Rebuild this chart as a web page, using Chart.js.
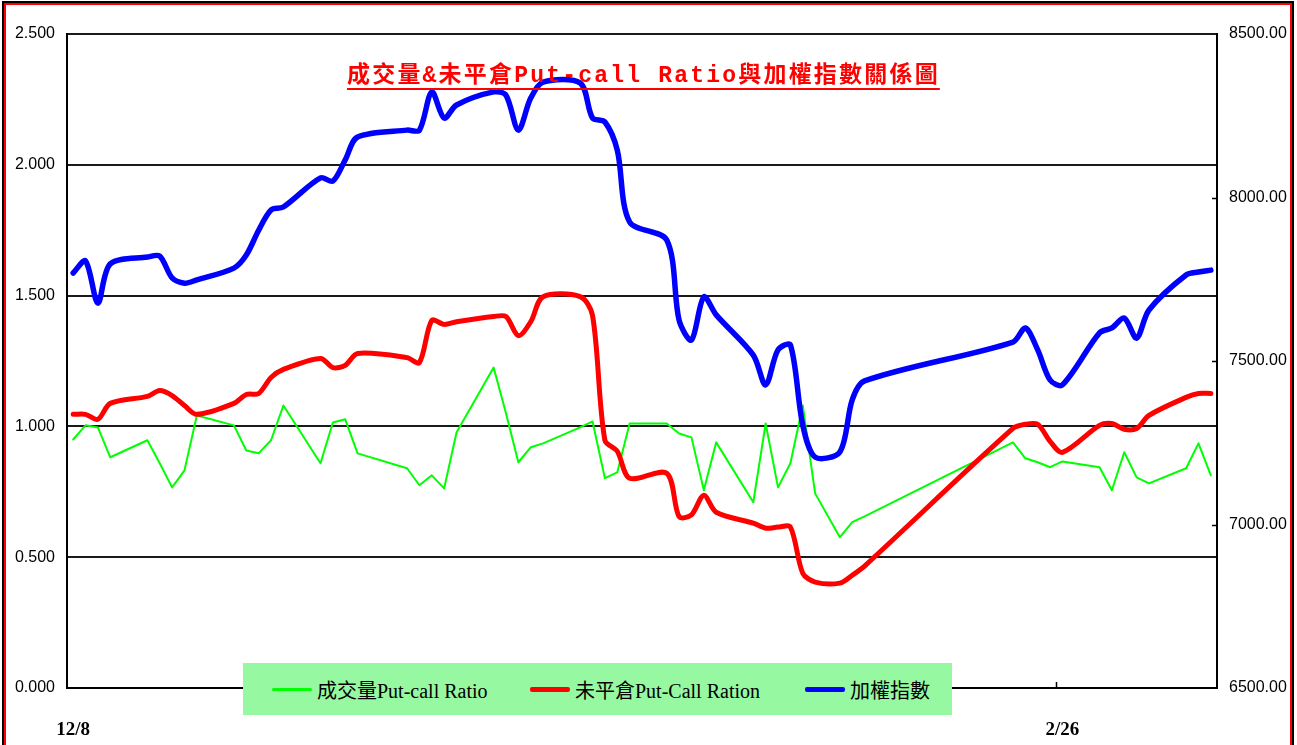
<!DOCTYPE html>
<html lang="zh-Hant">
<head>
<meta charset="utf-8">
<title>成交量&amp;未平倉Put-call Ratio與加權指數關係圖</title>
<script src="https://cdn.jsdelivr.net/npm/chart.js@4.4.1/dist/chart.umd.min.js"></script>
<style>
  html, body { margin: 0; padding: 0; background: #fff; }
  body { width: 1297px; height: 745px; position: relative; overflow: hidden; }
  .frame-outer { position: absolute; left: 2px; top: 1px; width: 1292px; height: 800px; border: 2px solid #000; border-bottom: 0; box-sizing: border-box; }
  .frame-inner { position: absolute; left: 4px; top: 3px; width: 1288px; height: 800px; border: 2px solid #f00; border-bottom: 0; box-sizing: border-box; }
  #pcrChart { position: absolute; left: 0; top: 0; }
  .chart-title { position: absolute; left: 347px; top: 61px; color: #f00; font: bold 23px "Liberation Mono", "Noto Sans CJK TC", monospace; letter-spacing: 2.2px; line-height: 30px; white-space: nowrap; text-decoration: underline; text-decoration-thickness: 2px; text-underline-offset: 6px; }
  .legend-box { position: absolute; left: 243px; top: 663px; width: 709px; height: 52px; background: #96f8a0; }
  .legend-item { position: absolute; top: 0; height: 52px; display: flex; align-items: center; font: 20px "Liberation Serif", "Noto Sans CJK TC", serif; color: #000; white-space: nowrap; }
  .legend-swatch { display: inline-block; width: 40px; margin-right: 5px; border-radius: 2px; }
</style>
</head>
<body>
<div class="frame-outer"></div>
<div class="frame-inner"></div>
<canvas id="pcrChart" width="1297" height="745"></canvas>
<div class="chart-title">成交量&amp;未平倉Put-call Ratio與加權指數關係圖</div>
<div class="legend-box" id="legendBox"></div>
<script>
'use strict';

// trading days (2010-02-06 was a make-up Saturday session)
const tradeDates = [
  '2009-12-08', '2009-12-09', '2009-12-10', '2009-12-11', '2009-12-14', '2009-12-15', '2009-12-16', '2009-12-17', '2009-12-18',
  '2009-12-21', '2009-12-22', '2009-12-23', '2009-12-24', '2009-12-25', '2009-12-28', '2009-12-29', '2009-12-30', '2009-12-31',
  '2010-01-04', '2010-01-05', '2010-01-06', '2010-01-07', '2010-01-08', '2010-01-11', '2010-01-12', '2010-01-13', '2010-01-14',
  '2010-01-15', '2010-01-18', '2010-01-19', '2010-01-20', '2010-01-21', '2010-01-22', '2010-01-25', '2010-01-26', '2010-01-27',
  '2010-01-28', '2010-01-29', '2010-02-01', '2010-02-02', '2010-02-03', '2010-02-04', '2010-02-05', '2010-02-06', '2010-02-08',
  '2010-02-09', '2010-02-10', '2010-02-22', '2010-02-23', '2010-02-24', '2010-02-25', '2010-02-26', '2010-03-01', '2010-03-02',
  '2010-03-03', '2010-03-04', '2010-03-05', '2010-03-08', '2010-03-09', '2010-03-10'
];

const volumePcr = [
  0.950, 1.004, 0.996, 0.882, 0.947, 0.859, 0.767, 0.832, 1.042,
  1.004, 0.908, 0.897, 0.947, 1.080, 0.859, 1.015, 1.027, 0.897,
  0.840, 0.775, 0.813, 0.763, 0.977, 1.225, 1.050, 0.863, 0.920,
  0.935, 0.996, 1.019, 0.802, 0.824, 1.011, 1.011, 0.973, 0.958,
  0.756, 0.939, 0.710, 1.011, 0.767, 0.859, 1.080, 0.744, 0.576,
  0.634, 0.656, 0.939, 0.878, 0.863, 0.844, 0.866, 0.844, 0.756,
  0.901, 0.805, 0.782, 0.840, 0.935, 0.813
];

const openInterestPcr = [
  1.046, 1.046, 1.027, 1.088, 1.115, 1.137, 1.118, 1.080, 1.046,
  1.088, 1.122, 1.126, 1.187, 1.218, 1.260, 1.225, 1.233, 1.279,
  1.263, 1.244, 1.405, 1.390, 1.400, 1.420, 1.420, 1.347, 1.400,
  1.496, 1.496, 1.424, 0.947, 0.905, 0.802, 0.821, 0.655, 0.662,
  0.737, 0.672, 0.630, 0.611, 0.615, 0.615, 0.439, 0.405, 0.401,
  0.431, 0.466, 0.992, 1.008, 1.008, 0.943, 0.901, 1.004, 1.011,
  0.989, 0.992, 1.042, 1.111, 1.126, 1.126
];

const taiex = [
  7769, 7806, 7677, 7797, 7818, 7821, 7754, 7738, 7748,
  7784, 7824, 7900, 7962, 7971, 8060, 8050, 8115, 8185,
  8206, 8206, 8323, 8243, 8283, 8323, 8313, 8206, 8304,
  8353, 8350, 8243, 8231, 8145, 7925, 7870, 7625, 7564,
  7696, 7641, 7518, 7427, 7534, 7549, 7304, 7206, 7222,
  7381, 7439, 7558, 7601, 7534, 7442, 7427, 7586, 7601,
  7631, 7570, 7656, 7763, 7772, 7778
];

const tickDates = ['2009-12-08', '2010-02-26'];
const ratioTicks = [0, 0.5, 1, 1.5, 2, 2.5];
const indexTicks = [6500, 7000, 7500, 8000, 8500];

const DAY_MS = 86400000;
const startMs = Date.parse(tradeDates[0]);

function dayOffset(iso) {
  return Math.round((Date.parse(iso) - startMs) / DAY_MS);
}

function dayLabel(offset) {
  const d = new Date(startMs + offset * DAY_MS);
  return (d.getUTCMonth() + 1) + '/' + d.getUTCDate();
}

function toPoints(values) {
  return values.map((v, i) => ({ x: dayOffset(tradeDates[i]), y: v }));
}

const lastDay = dayOffset(tradeDates[tradeDates.length - 1]);

// short tick marks pointing into the plot (right axis and the date ticks)
const innerTicks = {
  id: 'innerTicks',
  afterDraw(chart) {
    const { ctx, chartArea, scales } = chart;
    ctx.save();
    ctx.strokeStyle = '#000';
    ctx.lineWidth = 1.5;
    ctx.beginPath();
    scales.y1.ticks.forEach(t => {
      if (t.value <= scales.y1.min || t.value >= scales.y1.max) return;
      const py = Math.round(scales.y1.getPixelForValue(t.value)) + 0.5;
      ctx.moveTo(chartArea.right - 5, py);
      ctx.lineTo(chartArea.right, py);
    });
    scales.x.ticks.forEach(t => {
      const px = Math.round(scales.x.getPixelForValue(t.value - 0.5)) + 0.5;
      if (px <= chartArea.left + 2) return;
      ctx.moveTo(px, chartArea.bottom);
      ctx.lineTo(px, chartArea.bottom - 6);
    });
    ctx.stroke();
    ctx.restore();
  }
};

const ctx = document.getElementById('pcrChart').getContext('2d');
const pcrChart = new Chart(ctx, {
  type: 'line',
  data: {
    datasets: [
      { label: '成交量Put-call Ratio', data: toPoints(volumePcr), yAxisID: 'y', borderColor: '#00ff00', borderWidth: 2, tension: 0, order: 3, swatch: 3 },
      { label: '未平倉Put-Call Ration', data: toPoints(openInterestPcr), yAxisID: 'y', borderColor: '#ff0000', borderWidth: 5, tension: 0.3, order: 2, swatch: 5 },
      { label: '加權指數', data: toPoints(taiex), yAxisID: 'y1', borderColor: '#0000ff', borderWidth: 5.5, tension: 0.3, order: 1, swatch: 5 }
    ]
  },
  options: {
    responsive: false,
    animation: false,
    layout: { padding: { top: 34, left: 0, right: 0, bottom: 0 } },
    elements: {
      point: { radius: 0 },
      line: { borderCapStyle: 'round', borderJoinStyle: 'round', fill: false }
    },
    plugins: { legend: { display: false }, title: { display: false }, tooltip: { enabled: false } },
    scales: {
      x: {
        type: 'linear',
        min: -0.5,
        max: lastDay + 0.5,
        afterFit: s => { s.height = 57; },
        afterBuildTicks: s => { s.ticks = tickDates.map(d => ({ value: dayOffset(d) })); },
        grid: { display: false },
        border: { display: true, color: '#000', width: 2 },
        ticks: {
          autoSkip: false,
          maxRotation: 0,
          padding: 23,
          color: '#000',
          font: { family: '"Liberation Serif", serif', size: 19, weight: 'bold' },
          callback: v => dayLabel(v)
        }
      },
      y: {
        position: 'left',
        min: 0,
        max: 2.5,
        afterFit: s => { s.width = 67; },
        afterBuildTicks: s => { s.ticks = ratioTicks.map(v => ({ value: v })); },
        grid: { color: '#1a1a1a', lineWidth: 2, drawTicks: false },
        border: { display: true, color: '#000', width: 2 },
        ticks: {
          padding: 12,
          color: '#000',
          font: { family: '"Liberation Sans", sans-serif', size: 16 },
          callback: v => Number(v).toFixed(3)
        }
      },
      y1: {
        position: 'right',
        min: 6500,
        max: 8500,
        afterFit: s => { s.width = 80; },
        afterBuildTicks: s => { s.ticks = indexTicks.map(v => ({ value: v })); },
        grid: { drawOnChartArea: false, drawTicks: false },
        border: { display: true, color: '#000', width: 2 },
        ticks: {
          padding: 12,
          color: '#000',
          font: { family: '"Liberation Sans", sans-serif', size: 16 },
          callback: v => Number(v).toFixed(2)
        }
      }
    }
  },
  plugins: [innerTicks]
});

// legend built from the chart's datasets
function buildLegend(chart) {
  const box = document.getElementById('legendBox');
  const offsets = [29, 287, 562];
  chart.data.datasets.forEach((ds, i) => {
    const item = document.createElement('div');
    item.className = 'legend-item';
    item.style.left = offsets[i] + 'px';
    const sw = document.createElement('span');
    sw.className = 'legend-swatch';
    sw.style.height = ds.swatch + 'px';
    sw.style.background = ds.borderColor;
    const txt = document.createElement('span');
    txt.textContent = ds.label;
    item.appendChild(sw);
    item.appendChild(txt);
    box.appendChild(item);
  });
}

buildLegend(pcrChart);
</script>
</body>
</html>
